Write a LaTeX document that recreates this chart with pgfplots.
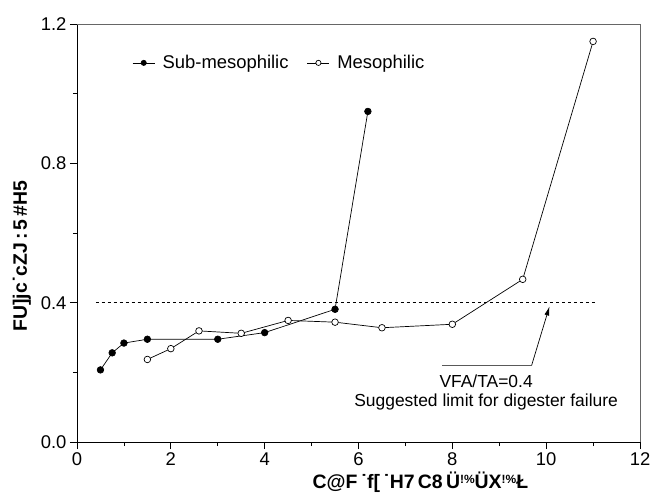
\documentclass[border=0pt]{standalone}
\usepackage{pgfplots}
\pgfplotsset{compat=1.18}
\usetikzlibrary{arrows.meta}
\usepackage{fontspec}
\setmainfont{Liberation Sans}
\begin{document}
\begin{tikzpicture}
\begin{axis}[
  scale only axis,
  width=563bp, height=418bp,
  xmin=0, xmax=12, ymin=0, ymax=1.2,
  xtick={0,2,4,6,8,10,12},
  ytick={0,0.4,0.8,1.2},
  minor xtick={1,3,5,7,9,11},
  minor ytick={0.2,0.6,1.0},
  y tick label style={/pgf/number format/fixed, /pgf/number format/fixed zerofill, /pgf/number format/precision=1},
  /pgf/number format/assume math mode=true,
  tick label style={font=\fontsize{18.5}{20}\selectfont},
  axis x line*=bottom, axis y line*=left,
  axis line style={black, line width=0.8pt},
  tick style={black, line width=0.8pt},
  tick align=outside,
  major tick length=7bp, minor tick length=4bp,
  xlabel={\bfseries C@F\,˙f[\,˙H7\,C8\,Ü\raisebox{0.5ex}{\fontsize{12}{12}\selectfont!\%}ÜX\raisebox{0.5ex}{\fontsize{12}{12}\selectfont!\%}Ł},
  ylabel={\bfseries FU]jc˙cZJ\,:\,5\,\#H5},
  xlabel style={font=\fontsize{19.5}{21}\selectfont, at={(axis description cs:0.61,-0.096)}, anchor=center},
  ylabel style={font=\fontsize{19.5}{21}\selectfont, at={(axis description cs:-0.098,0.445)}, anchor=center},
  legend style={draw=none, fill=none, at={(axis description cs:0.098,0.907)}, anchor=west,
    font=\fontsize{18.5}{20}\selectfont, inner sep=0pt, nodes={inner sep=2.5bp},
    /tikz/every even column/.append style={column sep=16bp}},
  legend columns=2,
  legend cell align=left,
  legend image code/.code={\draw[mark repeat=2,mark phase=2,#1,mark size=2.6bp] plot coordinates {(0bp,0bp)(11bp,0bp)(22bp,0bp)};},
  clip=false,
]
\addplot[black, line width=0.7pt, mark=*, mark size=3.3bp, mark options={fill=black}] coordinates {
(0.5,0.207) (0.75,0.256) (1.0,0.284) (1.5,0.295) (3.0,0.295) (4.0,0.314) (5.5,0.381) (6.2,0.949)
};
\addlegendentry{\hspace{5bp}Sub-mesophilic}
\addplot[black, line width=0.7pt, mark=*, mark size=3.3bp, mark options={fill=white}] coordinates {
(1.5,0.237) (2.0,0.268) (2.6,0.319) (3.5,0.312) (4.5,0.349) (5.5,0.344) (6.5,0.328) (8.0,0.338) (9.5,0.467) (11.0,1.150)
};
\addlegendentry{\hspace{5bp}Mesophilic}
\addplot[black, dashed, line width=0.6pt, forget plot] coordinates {(0.4,0.4) (11.05,0.4)};
\draw[black, line width=0.7pt, -{Latex[length=9bp,width=5bp]}] (axis cs:7.78,0.22) -- (axis cs:9.69,0.22) -- (axis cs:10.07,0.389);
\node[font=\fontsize{17.5}{19}\selectfont, anchor=center] at (axis cs:8.72,0.175) {VFA/TA=0.4};
\node[font=\fontsize{17.5}{19}\selectfont, anchor=center] at (axis cs:8.72,0.115) {Suggested limit for digester failure};
\draw[gray!80!black, line width=0.8pt] (rel axis cs:0,1) -- (rel axis cs:1,1) -- (rel axis cs:1,0);
\coordinate (SW) at (rel axis cs:0,0);
\coordinate (NE) at (rel axis cs:1,1);
\end{axis}
\pgfresetboundingbox
\path ([shift={(-77bp,-60bp)}]SW) rectangle ([shift={(10bp,24bp)}]NE);
\end{tikzpicture}
\end{document}
